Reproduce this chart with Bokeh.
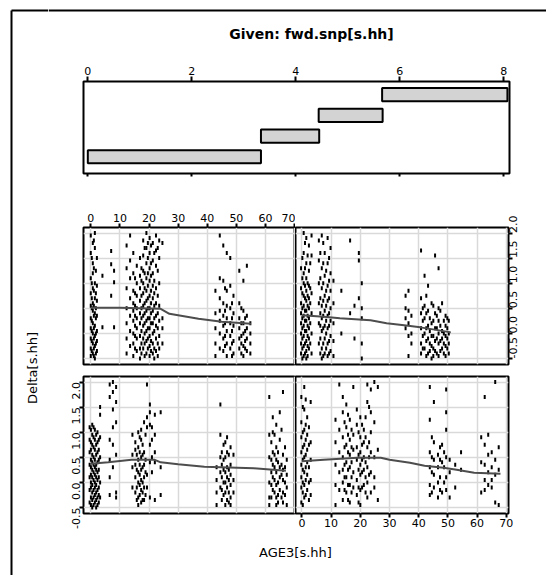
import math
from bokeh.plotting import figure
from bokeh.layouts import row, column
from bokeh.models import Range1d, FixedTicker, LinearAxis, Grid, PrintfTickFormatter
from bokeh.embed import file_html
from bokeh.resources import INLINE
from bokeh.core.properties import value

FONT = "DejaVu Sans"

# ---- conditioning variable (fwd.snp) intervals ----
given_lo = [0.0, 3.33, 4.44, 5.66]
given_hi = [3.33, 4.45, 5.67, 8.07]
given_level = [1, 2, 3, 4]
given_ticks = [0, 2, 4, 6, 8]

x_ticks = [0, 10, 20, 30, 40, 50, 60, 70]
y_ticks = [-0.5, 0.0, 0.5, 1.0, 1.5, 2.0]

# ---- panel data: (AGE3, [Delta values]) columns ----
# interval 3 (top-left)
tl_cols = [
    (0.0, [1.95, 1.6, 1.1, 0.8, 0.55, 0.3, 0.1, -0.1, -0.3, -0.45]),
    (0.35, [1.5, 1.0, 0.7, 0.5, 0.25, 0.05, -0.15, -0.35]),
    (0.7, [1.8, 1.4, 1.2, 0.9, 0.6, 0.45, 0.2, 0.0, -0.2, -0.4]),
    (1.05, [1.85, 1.3, 0.85, 0.55, 0.35, 0.1, -0.1, -0.3, -0.45]),
    (1.4, [2.0, 1.7, 1.0, 0.7, 0.4, 0.15, -0.05, -0.25, -0.5]),
    (1.75, [1.25, 0.8, 0.5, 0.3, 0.0, -0.2, -0.4]),
    (2.1, [1.5, 0.95, 0.65, 0.35, 0.05, -0.15, -0.35]),
    (4.0, [1.15, 0.12]),
    (7.0, [1.64, 1.38, 0.75]),
    (8.0, [1.25, 1.02, 0.12]),
    (12.3, [1.75, 1.3, 0.9, 0.5, 0.2, -0.1, -0.4]),
    (13.5, [1.95, 1.45, 1.1, 0.7, 0.35, 0.05, -0.25]),
    (14.6, [1.6, 1.2, 0.85, 0.6, 0.45, 0.25, 0.0, -0.2, -0.45]),
    (15.2, [1.1, 0.8, 0.55, 0.35, 0.15, -0.05, -0.3]),
    (15.8, [1.35, 1.0, 0.75, 0.5, 0.3, 0.1, -0.1, -0.35]),
    (16.9, [1.5, 1.15, 0.9, 0.65, 0.4, 0.2, -0.05, -0.3, -0.5]),
    (17.4, [1.3, 1.05, 0.75, 0.5, 0.3, 0.05, -0.2, -0.4]),
    (18.0, [1.85, 1.55, 1.25, 1.0, 0.8, 0.55, 0.35, 0.15, -0.1, -0.3]),
    (18.5, [1.7, 1.2, 0.9, 0.6, 0.4, 0.2, 0.0, -0.2, -0.45]),
    (19.1, [2.0, 1.7, 1.4, 1.1, 0.85, 0.65, 0.45, 0.25, 0.05, -0.15, -0.4]),
    (19.6, [1.8, 1.5, 1.2, 0.95, 0.7, 0.5, 0.3, 0.1, -0.1, -0.3]),
    (20.2, [1.9, 1.6, 1.3, 1.05, 0.75, 0.5, 0.3, 0.1, -0.05, -0.25, -0.45]),
    (20.7, [1.75, 1.4, 1.15, 0.85, 0.6, 0.4, 0.2, -0.15, -0.35]),
    (21.3, [1.8, 1.45, 1.2, 0.95, 0.7, 0.45, 0.2, 0.0, -0.2, -0.4]),
    (21.8, [1.6, 1.05, 0.8, 0.55, 0.3, 0.05, -0.3, -0.5]),
    (22.4, [1.95, 1.65, 1.35, 0.9, 0.6, 0.35, 0.15, -0.1, -0.35]),
    (23.0, [1.7, 1.25, 0.75, 0.4, 0.1, -0.2, -0.45]),
    (23.5, [1.85, 1.5, 1.0, 0.55, 0.25, -0.05, -0.3]),
    (24.6, [1.8, 0.3, 0.1, -0.2]),
    (42.8, [0.85, 0.4, 0.1, -0.2, -0.45]),
    (44.3, [1.95, 1.1, 0.7, 0.45, 0.25, 0.0, -0.3]),
    (45.5, [1.75, 1.05, 0.6, 0.35, 0.15, -0.1, -0.35]),
    (46.1, [0.9, 0.45, 0.2, -0.05, -0.25]),
    (46.7, [1.6, 0.85, 0.55, 0.3, 0.05, -0.2, -0.45]),
    (47.9, [1.5, 0.95, 0.5, 0.2, -0.05, -0.3]),
    (48.5, [0.6, 0.3, 0.05, -0.2, -0.45]),
    (49.0, [0.75, 0.4, 0.15, -0.15, -0.4]),
    (51.0, [1.25, 0.6, 0.3, 0.1, -0.1, -0.3]),
    (51.7, [0.5, 0.2, -0.05, -0.2, -0.4]),
    (52.4, [1.05, 0.45, 0.2, 0.0, -0.25, -0.45]),
    (53.0, [0.3, 0.05, -0.15, -0.3]),
    (53.6, [1.35, 0.35, 0.1, -0.1, -0.35]),
    (54.8, [0.2, 0.0, -0.2, -0.4]),
]
tl_line_x = [0, 10, 24, 27, 37, 45, 55]
tl_line_y = [0.51, 0.51, 0.49, 0.39, 0.29, 0.23, 0.19]

# interval 4 (top-right)
tr_cols = [
    (-0.3, [1.3, 0.9, 0.6, 0.4, 0.2, 0.0, -0.2, -0.4]),
    (0.15, [1.5, 1.1, 0.8, 0.5, 0.3, 0.1, -0.1, -0.3, -0.5]),
    (0.6, [2.0, 1.6, 1.2, 1.0, 0.75, 0.55, 0.35, 0.15, -0.05, -0.25, -0.45]),
    (1.05, [1.8, 1.3, 0.95, 0.7, 0.45, 0.25, 0.05, -0.2, -0.4]),
    (1.5, [1.9, 1.4, 1.1, 0.85, 0.65, 0.45, 0.25, 0.05, -0.15, -0.35, -0.5]),
    (1.95, [1.55, 1.0, 0.75, 0.55, 0.35, 0.15, -0.05, -0.25, -0.45]),
    (2.4, [1.75, 1.25, 0.95, 0.7, 0.5, 0.3, 0.1, -0.1, -0.3]),
    (2.85, [1.4, 0.9, 0.6, 0.2, -0.2]),
    (3.3, [1.95, 1.55, 0.8, 0.4, 0.0, -0.4]),
    (5.8, [1.85, 1.45, 1.0, 0.6, 0.2, -0.2]),
    (6.3, [1.6, 1.1, 0.7, 0.4, 0.15, -0.1, -0.4]),
    (6.8, [1.95, 1.3, 0.9, 0.55, 0.3, 0.05, -0.3, -0.5]),
    (7.3, [1.8, 1.4, 1.0, 0.65, 0.35, 0.1, -0.2, -0.45]),
    (7.8, [1.6, 1.15, 0.75, 0.45, 0.15, -0.1, -0.4]),
    (8.3, [1.25, 0.85, 0.55, 0.25, 0.0, -0.3]),
    (8.8, [1.9, 1.4, 0.95, 0.65, 0.35, 0.1, -0.2, -0.45]),
    (9.3, [1.5, 1.05, 0.7, 0.4, 0.15, -0.15, -0.4]),
    (9.8, [1.7, 1.2, 0.85, 0.5, 0.25, -0.05, -0.35]),
    (10.8, [1.05, 0.6, 0.2, -0.15, -0.45]),
    (13.5, [0.85, 0.0]),
    (16.5, [1.85, 0.4]),
    (18.0, [0.55, -0.1]),
    (19.5, [1.6, 1.45, 0.7]),
    (20.5, [1.0, 0.5, 0.3, -0.2, -0.5]),
    (35.5, [0.75, 0.5, 0.3, 0.1]),
    (36.5, [0.85, 0.45, 0.2, -0.05, -0.45]),
    (37.5, [0.35, 0.0, -0.2]),
    (40.8, [1.65, 0.7, 0.4, 0.1, -0.2, -0.4]),
    (41.4, [0.5, 0.25, -0.05, -0.3]),
    (42.0, [1.15, 0.55, 0.3, 0.0, -0.3]),
    (42.6, [0.75, 0.4, 0.1, -0.15, -0.45]),
    (43.2, [0.95, 0.45, 0.15, -0.1, -0.4]),
    (43.8, [0.3, 0.05, -0.2, -0.35]),
    (44.4, [0.6, 0.2, -0.05, -0.25, -0.5]),
    (45.0, [0.55, 0.25, -0.05, -0.3, -0.45]),
    (45.6, [1.55, 0.4, 0.1, -0.15, -0.35]),
    (46.2, [0.35, 0.1, -0.1, -0.4]),
    (46.8, [1.3, 0.5, 0.25, 0.0, -0.2, -0.45]),
    (47.4, [0.45, 0.15, -0.15, -0.35]),
    (48.0, [0.6, 0.05, -0.1, -0.3]),
    (48.6, [0.25, 0.0, -0.2, -0.4]),
    (49.2, [0.35, 0.15, -0.05, -0.25, -0.45]),
    (49.8, [0.3, 0.1, -0.1, -0.3]),
    (50.3, [0.25, 0.0, -0.2, -0.4]),
]
tr_line_x = [0, 7.5, 13, 23.5, 29, 35, 40.5, 46, 51]
tr_line_y = [0.36, 0.33, 0.30, 0.26, 0.20, 0.16, 0.12, 0.07, 0.02]

# interval 1 (bottom-left)
bl_cols = [
    (-0.4, [1.1, 0.85, 0.6, 0.35, 0.1, -0.15, -0.4]),
    (0.05, [1.05, 0.8, 0.65, 0.45, 0.3, 0.15, 0.0, -0.1, -0.3, -0.45]),
    (0.5, [1.15, 0.95, 0.75, 0.55, 0.4, 0.25, 0.1, -0.05, -0.2, -0.35, -0.5]),
    (0.95, [1.1, 0.9, 0.7, 0.5, 0.35, 0.2, 0.05, -0.15, -0.3, -0.45]),
    (1.4, [1.05, 0.85, 0.65, 0.45, 0.3, 0.15, 0.0, -0.1, -0.25, -0.4]),
    (1.85, [0.95, 0.75, 0.55, 0.35, 0.25, 0.1, -0.05, -0.2, -0.35, -0.5]),
    (2.3, [1.0, 0.8, 0.6, 0.4, 0.2, 0.05, -0.15, -0.3, -0.45]),
    (2.75, [0.85, 0.65, 0.45, 0.25, 0.1, -0.1, -0.25, -0.4]),
    (3.2, [1.5, 1.35, 0.9, 0.5, 0.0, -0.3]),
    (6.5, [1.95, 1.7, 0.85, 0.45, 0.1, -0.25]),
    (7.6, [2.0, 1.8, 1.45, 1.1, 0.75, 0.3]),
    (8.7, [1.9, 1.6, 1.2, 0.55, -0.2, -0.3]),
    (14.3, [0.95, 0.55, 0.3, -0.1]),
    (15.3, [0.8, 0.65, 0.35, 0.1, -0.2]),
    (15.8, [0.55, 0.25, -0.1, -0.35]),
    (16.3, [1.0, 0.7, 0.45, 0.2, 0.0, -0.3, -0.45]),
    (16.8, [0.9, 0.6, 0.35, 0.15, -0.05, -0.25]),
    (17.3, [1.05, 0.85, 0.5, 0.25, 0.05, -0.15, -0.4]),
    (17.8, [0.75, 0.55, 0.3, 0.0, -0.2, -0.35]),
    (18.3, [1.2, 0.6, 0.35, 0.1, -0.1, -0.35]),
    (18.8, [0.95, 0.45, 0.2, -0.25]),
    (19.3, [1.95, 1.3, 1.1, 0.15, -0.1]),
    (20.3, [1.55, 1.4, 1.15, 0.75, 0.4, -0.3]),
    (21.0, [1.1, 0.85, 0.5, 0.2]),
    (22.0, [1.35, 0.95, 0.6, 0.4, -0.35]),
    (24.0, [1.4, 0.3, -0.25]),
    (43.2, [0.3, 0.05, -0.2, -0.45]),
    (44.5, [1.55, 0.95, 0.5, 0.2, -0.1]),
    (45.0, [0.6, 0.35, 0.1, -0.15, -0.35]),
    (45.6, [0.75, 0.45, 0.25, 0.0, -0.25]),
    (46.2, [0.8, 0.5, 0.2, 0.0, -0.2, -0.45]),
    (46.8, [0.9, 0.6, 0.3, 0.1, -0.1, -0.35]),
    (47.4, [0.55, 0.25, 0.05, -0.2, -0.4]),
    (48.0, [0.7, 0.35, 0.15, -0.05, -0.3, -0.45]),
    (49.0, [0.55, 0.05, -0.2]),
    (61.3, [1.7, 0.95, 0.5, 0.0, -0.3, -0.45]),
    (62.0, [0.8, 0.45, 0.2, -0.05, -0.3]),
    (62.5, [1.3, 1.0, 0.6, 0.35, 0.1, -0.15]),
    (63.1, [0.95, 0.55, 0.3, 0.05, -0.2]),
    (63.7, [1.15, 0.7, 0.45, 0.2, -0.05, -0.3, -0.45]),
    (64.3, [0.6, 0.4, 0.0, -0.25, -0.4]),
    (64.9, [1.4, 0.85, 0.3, 0.1, -0.15]),
    (65.5, [1.05, 0.35, 0.15, -0.3]),
    (66.0, [1.8, 0.55, 0.25, 0.05, -0.2, -0.4]),
    (66.7, [0.7, 0.3, 0.0, -0.25]),
    (67.3, [0.45, 0.15, -0.1, -0.45]),
]
bl_line_x = [0, 6, 14, 22, 24, 30, 39, 56, 67]
bl_line_y = [0.37, 0.40, 0.45, 0.45, 0.40, 0.36, 0.31, 0.28, 0.23]

# interval 2 (bottom-right)
br_cols = [
    (-0.2, [1.7, 1.2, 0.9, 0.6, 0.35, 0.1, -0.1, -0.4]),
    (0.3, [1.5, 1.0, 0.7, 0.45, 0.25, 0.0, -0.2, -0.45]),
    (0.8, [1.9, 1.45, 1.05, 0.75, 0.5, 0.2, -0.05, -0.3]),
    (1.3, [1.65, 1.15, 0.85, 0.55, 0.3, 0.05, -0.25]),
    (1.8, [1.3, 0.95, 0.65, 0.4, 0.15, -0.15]),
    (2.4, [1.1, 0.75, 0.3, 0.0, -0.35]),
    (3.0, [1.6, 0.8, 0.45, 0.05, -0.25]),
    (11.5, [1.25, 0.8, 0.35, -0.05, -0.45]),
    (12.8, [1.95, 1.05, 0.6, 0.2, -0.15]),
    (14.0, [1.7, 1.4, 0.9, 0.5, 0.25, 0.0, -0.35]),
    (14.6, [1.2, 0.7, 0.35, 0.1, -0.15]),
    (15.2, [1.55, 1.1, 0.75, 0.4, 0.1, -0.2]),
    (15.8, [1.35, 0.95, 0.6, 0.25, -0.05, -0.35]),
    (16.4, [1.25, 0.85, 0.55, 0.3, -0.05, -0.4]),
    (17.0, [1.05, 0.7, 0.4, 0.1, -0.2]),
    (17.6, [1.9, 0.95, 0.65, 0.2, -0.1]),
    (18.8, [1.45, 1.15, 0.7, 0.45, 0.05, -0.25]),
    (19.4, [1.0, 0.55, 0.25, -0.1, -0.4]),
    (20.0, [1.3, 0.9, 0.6, 0.35, 0.15, -0.15, -0.45]),
    (20.6, [1.15, 0.75, 0.45, 0.2, -0.1]),
    (21.2, [1.05, 0.8, 0.5, 0.25, -0.05]),
    (21.8, [1.3, 0.9, 0.4, 0.1, -0.2]),
    (22.4, [1.95, 1.6, 0.7, 0.3, 0.0, -0.3]),
    (23.0, [1.5, 0.8, 0.5, 0.15]),
    (23.6, [1.85, 1.4, 1.0, 0.6, 0.2, -0.2]),
    (24.8, [2.0, 1.2, 0.5, 0.1, -0.1]),
    (26.0, [1.9, 0.65, -0.35]),
    (43.8, [1.9, 1.25, 0.6, 0.3, -0.05, -0.25]),
    (44.5, [0.9, 0.5, 0.2, -0.2]),
    (45.2, [1.6, 0.8, 0.45, 0.15, -0.1]),
    (46.6, [0.55, 0.3, 0.0, -0.3]),
    (47.3, [0.7, 0.45, 0.1, -0.15]),
    (48.0, [0.75, 0.4, -0.2]),
    (48.7, [0.6, 0.3, 0.0]),
    (49.4, [1.85, 1.4, 1.05, 0.5, 0.1, -0.15]),
    (50.6, [0.45, 0.2, -0.3]),
    (52.5, [0.35, -0.1]),
    (54.5, [0.6, 0.25]),
    (61.4, [0.9, 0.4, -0.2]),
    (62.6, [1.7, 0.75, 0.35, 0.05, -0.15]),
    (63.8, [0.95, 0.55, 0.2, -0.05]),
    (65.0, [0.6, 0.3, 0.05, -0.1]),
    (66.2, [2.0, 0.45, 0.15, -0.4]),
    (67.4, [0.7, 0.25, -0.45]),
]
br_line_x = [0, 7.5, 19, 27, 30, 37, 42, 48.5, 53, 59, 68]
br_line_y = [0.42, 0.45, 0.49, 0.49, 0.45, 0.39, 0.33, 0.29, 0.25, 0.19, 0.17]

GRID_COLOR = "#d9d9d9"
LINE_COLOR = "#4d4d4d"


def flatten(cols):
    xs, ys = [], []
    for x, yl in cols:
        for y in yl:
            xs.append(x)
            ys.append(y)
    return xs, ys


def make_axis(ticks, fmt=None, orient="horizontal", standoff=2, labels=True, tick_out=4):
    ax = LinearAxis(ticker=FixedTicker(ticks=ticks, minor_ticks=[]))
    ax.axis_line_color = None
    ax.major_tick_in = 0
    ax.major_tick_out = tick_out
    ax.major_tick_line_width = 2
    ax.major_tick_line_color = "black"
    ax.minor_tick_line_color = None
    ax.major_label_standoff = standoff
    ax.major_label_text_font = FONT
    ax.major_label_text_font_size = "11px"
    ax.major_label_text_color = "black" if labels else None
    ax.major_label_orientation = orient
    if fmt is not None:
        ax.formatter = PrintfTickFormatter(format=fmt)
    return ax


def base_fig(**kw):
    f = figure(x_axis_location=None, y_axis_location=None,
               toolbar_location=None, output_backend="svg", **kw)
    f.grid.visible = False
    f.border_fill_color = "white"
    f.background_fill_color = "white"
    try:
        f.frame_align = False
    except Exception:
        pass
    return f


def strip(w, h):
    s = base_fig(width=w, height=h, x_range=Range1d(0, w), y_range=Range1d(h, 0),
                 min_border_left=0, min_border_right=0, min_border_top=0, min_border_bottom=0)
    s.outline_line_color = None
    return s


def panel(w, h, bl, br, bt, bb, xr, cols, lx, ly):
    p = base_fig(width=w, height=h, x_range=Range1d(*xr), y_range=Range1d(-0.62, 2.11),
                 min_border_left=bl, min_border_right=br, min_border_top=bt, min_border_bottom=bb)
    p.outline_line_color = "black"
    p.outline_line_width = 2
    p.add_layout(Grid(dimension=0, ticker=FixedTicker(ticks=x_ticks),
                      grid_line_color=GRID_COLOR, grid_line_width=1.5))
    p.add_layout(Grid(dimension=1, ticker=FixedTicker(ticks=y_ticks),
                      grid_line_color=GRID_COLOR, grid_line_width=1.5))
    xs, ys = flatten(cols)
    p.rect(xs, ys, width=2, height=4, width_units="screen", height_units="screen",
           fill_color="black", line_color=None)
    p.line(lx, ly, line_color=LINE_COLOR, line_width=2)
    return p


# ---- left strip: outer frame + y label ----
left = strip(48, 575)
left.line([11, 11], [10, 575], line_color="black", line_width=2)
left.line([11, 48], [10, 10], line_color="black", line_width=2)
left.text(x=[31.7], y=[367.5], text=["Delta[s.hh]"], angle=math.pi / 2,
          text_font=value(FONT), text_font_size="13px", text_color="black",
          text_align="center", text_baseline="middle")

# ---- top strip: frame + title ----
top = strip(498, 53)
top.line([0, 498], [10, 10], line_color="black", line_width=2)
top.text(x=[263], y=[33], text=["Given: fwd.snp[s.hh]"],
         text_font=value(FONT), text_font_size="14px", text_font_style="bold",
         text_color="black", text_align="center", text_baseline="middle")

# ---- given panel ----
g = base_fig(width=498, height=145, x_range=Range1d(-0.083, 8.11), y_range=Range1d(0.19, 4.64),
             min_border_left=35, min_border_right=37, min_border_top=28, min_border_bottom=25)
g.outline_line_color = "black"
g.outline_line_width = 2
g.quad(left=given_lo, right=given_hi,
       bottom=[v - 0.32 for v in given_level], top=[v + 0.32 for v in given_level],
       fill_color="#d3d3d3", line_color="black", line_width=2)
g.add_layout(make_axis(given_ticks, tick_out=5), "above")
g.add_layout(make_axis(given_ticks, labels=False, tick_out=3), "below")

# ---- scatter panels ----
XR_L = (-2.5, 70.3)
XR_R = (-2.2, 70.75)
tl = panel(247, 172, 35, 0, 29, 6, XR_L, tl_cols, tl_line_x, tl_line_y)
tl.add_layout(make_axis(x_ticks), "above")
tr = panel(251, 172, 0, 38, 29, 6, XR_R, tr_cols, tr_line_x, tr_line_y)
tr.add_layout(make_axis(y_ticks, fmt="%.1f", orient=math.pi / 2, standoff=1), "right")
bl = panel(247, 165, 35, 0, 6, 22, XR_L, bl_cols, bl_line_x, bl_line_y)
bl.add_layout(make_axis(y_ticks, fmt="%.1f", orient=math.pi / 2, standoff=3), "left")
br = panel(251, 165, 0, 38, 6, 22, XR_R, br_cols, br_line_x, br_line_y)
br.add_layout(make_axis(x_ticks, standoff=1), "below")

# ---- bottom strip: x label ----
bot = strip(498, 40)
bot.text(x=[247], y=[16.7], text=["AGE3[s.hh]"],
         text_font=value(FONT), text_font_size="13px", text_color="black",
         text_align="center", text_baseline="middle")

grid_block = row(column(tl, bl), column(tr, br))
right_col = column(top, g, grid_block, bot)
layout = row(left, right_col)

open("out.html", "w").write(file_html(layout, INLINE))
